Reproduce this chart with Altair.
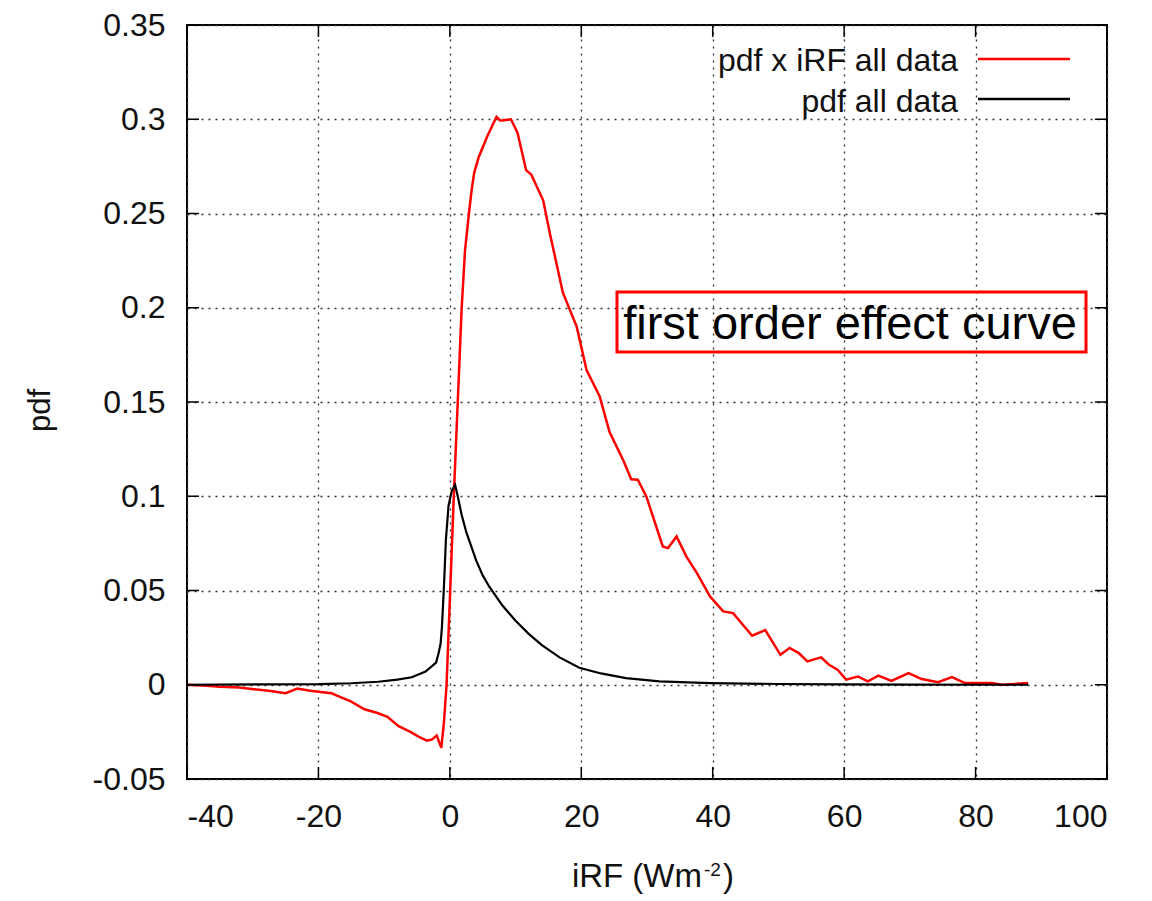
import altair as alt
import pandas as pd

# ---- data ----
red_x = [-40, -37, -35, -32, -29, -27, -25, -23.2, -21.5, -20, -18, -17, -15, -13, -11, -9.5,
         -7.8, -6, -4.7, -3.5, -2.7, -2.0, -1.3, -0.9, -0.5, 0.6, 1.2, 1.8, 2.3, 2.9, 3.3, 3.7,
         4.4, 5.7, 7.1, 7.6, 8.0, 9.3, 10.3, 11.6, 12.4, 14.2, 15.2, 17.2, 19.3, 20.8, 22.8,
         24.3, 26.4, 27.6, 28.6, 29.9, 32.4, 33.2, 34.5, 36.0, 37.6, 39.6, 41.6, 43.1, 46.0,
         48.0, 50.3, 51.7, 53.1, 54.4, 56.5, 57.7, 59.0, 60.3, 62.1, 63.6, 65.2, 67.2, 69.8,
         71.8, 74.3, 76.4, 78.4, 82.5, 84.0, 88.0]
red_y = [0.0, -0.0005, -0.001, -0.0015, -0.0027, -0.0035, -0.0045, -0.002, -0.003, -0.0037,
         -0.0045, -0.006, -0.009, -0.013, -0.015, -0.017, -0.022, -0.025, -0.0276, -0.0297,
         -0.029, -0.027, -0.0335, -0.02, 0.0, 0.1, 0.15, 0.2, 0.23, 0.25, 0.262, 0.2716,
         0.28, 0.291, 0.3013, 0.2995, 0.2994, 0.300, 0.2928, 0.273, 0.2706, 0.257, 0.2398,
         0.208, 0.19, 0.167, 0.153, 0.134, 0.119, 0.109, 0.1088, 0.0999, 0.0734, 0.0725,
         0.0787, 0.068, 0.0592, 0.0468, 0.0389, 0.038, 0.026, 0.029, 0.0159, 0.0195, 0.0168,
         0.0124, 0.0145, 0.0106, 0.008, 0.0027, 0.0044, 0.0018, 0.0048, 0.002, 0.0062, 0.003,
         0.0014, 0.0041, 0.0009, 0.0009, 0.0, 0.0009]

black_x = [-40, -20, -15, -10.9, -8, -5.8, -3.7, -2.1, -1.7, -1.4, -1.2, -0.9, -0.6, -0.2,
           0.3, 0.8, 1.2, 1.8, 2.5, 3.3, 4, 5, 6, 8, 10, 12, 14, 16.7, 19.7, 23, 26.8, 31.9,
           39.6, 50, 60, 70, 88]
black_y = [0.0, 0.0003, 0.0008, 0.0016, 0.0027, 0.004, 0.007, 0.0117, 0.017, 0.022, 0.031,
           0.052, 0.077, 0.095, 0.103, 0.106, 0.1, 0.09, 0.081, 0.073, 0.066, 0.058, 0.052,
           0.042, 0.034, 0.027, 0.021, 0.0145, 0.009, 0.006, 0.0035, 0.0018, 0.0009, 0.0004,
           0.0002, 0.0001, 0.0]

series_names = ["pdf x iRF all data", "pdf all data"]
series_colors = ["#ff0000", "#000000"]

x_ticks = [-40, -20, 0, 20, 40, 60, 80, 100]
y_ticks = [-0.05, 0, 0.05, 0.1, 0.15, 0.2, 0.25, 0.3, 0.35]

annotation = "first order effect curve"
x_title_main = "iRF (Wm"
x_title_sup = "-2"
x_title_end = ")"
y_title = "pdf"

W, H = 920, 754
FONT = "Liberation Sans"

red_df = pd.DataFrame({"x": red_x, "y": red_y, "s": series_names[0]})
black_df = pd.DataFrame({"x": black_x, "y": black_y, "s": series_names[1]})

xscale = alt.Scale(domain=[-40, 100], nice=False, zero=False)
yscale = alt.Scale(domain=[-0.05, 0.35], nice=False, zero=False)

label_expr = "replace(format(datum.value, '~g'), '\u2212', '-')"

xaxis = alt.Axis(values=x_ticks, title=None, grid=True, gridDash=[2, 5], gridColor="#333",
                 gridWidth=1.3, ticks=False, domain=False, labelFont=FONT, labelFontSize=32,
                 labelPadding=22, labelColor="#111", labelExpr=label_expr)
yaxis = alt.Axis(values=y_ticks, title=y_title, grid=True, gridDash=[2, 5], gridColor="#333",
                 gridWidth=1.3, ticks=False, domain=False, labelFont=FONT, labelFontSize=32,
                 labelPadding=22, labelColor="#111", labelExpr=label_expr,
                 titleFont=FONT, titleFontSize=31, titleFontWeight="normal", titleColor="#111",
                 titleX=-147, titleY=385, titleAngle=270, titleAlign="center",
                 titleBaseline="middle")

red_line = alt.Chart(red_df).mark_line(color=series_colors[0], strokeWidth=2.5).encode(
    x=alt.X("x:Q", scale=xscale, axis=xaxis),
    y=alt.Y("y:Q", scale=yscale, axis=yaxis),
)
black_line = alt.Chart(black_df).mark_line(color=series_colors[1], strokeWidth=2.2).encode(
    x=alt.X("x:Q"), y=alt.Y("y:Q"),
)

xt_df = pd.DataFrame({"v": x_ticks})
yt_df = pd.DataFrame({"v": y_ticks})
tick_len = 12
tick_style = dict(color="#000", strokeWidth=1.5)
ticks_bottom = alt.Chart(xt_df).mark_rule(**tick_style).encode(
    x="v:Q", y=alt.value(H), y2=alt.value(H - tick_len))
ticks_top = alt.Chart(xt_df).mark_rule(**tick_style).encode(
    x="v:Q", y=alt.value(0), y2=alt.value(tick_len))
ticks_left = alt.Chart(yt_df).mark_rule(**tick_style).encode(
    y="v:Q", x=alt.value(0), x2=alt.value(tick_len))
ticks_right = alt.Chart(yt_df).mark_rule(**tick_style).encode(
    y="v:Q", x=alt.value(W), x2=alt.value(W - tick_len))

# x-axis title with superscript
title_df = pd.DataFrame({"a": [x_title_main], "b": [x_title_sup], "c": [x_title_end]})
t_main = alt.Chart(title_df).mark_text(font=FONT, fontSize=33, color="#111", align="right",
                                       baseline="alphabetic").encode(
    text="a:N", x=alt.value(515), y=alt.value(862))
t_sup = alt.Chart(title_df).mark_text(font=FONT, fontSize=19, color="#111", align="left",
                                      baseline="alphabetic").encode(
    text="b:N", x=alt.value(517), y=alt.value(851))
t_end = alt.Chart(title_df).mark_text(font=FONT, fontSize=33, color="#111", align="left",
                                      baseline="alphabetic").encode(
    text="c:N", x=alt.value(536), y=alt.value(862))

# annotation box
box_df = pd.DataFrame({"t": [annotation]})
box = alt.Chart(box_df).mark_rect(fill=None, fillOpacity=0, stroke="#ff0000", strokeWidth=3).encode(
    x=alt.value(430), x2=alt.value(899), y=alt.value(267), y2=alt.value(327))
box_text = alt.Chart(box_df).mark_text(font=FONT, fontSize=47, color="#000",
                                       align="center", baseline="alphabetic").encode(
    text="t:N", x=alt.value(663), y=alt.value(314))

# legend (gnuplot style: text then sample line)
leg_df = pd.DataFrame({"name": series_names, "color": series_colors,
                       "ty": [46, 87], "ly": [34, 74]})
leg_text = alt.Chart(leg_df).mark_text(font=FONT, fontSize=32, color="#111",
                                       align="right", baseline="alphabetic").encode(
    text="name:N", x=alt.value(771), y=alt.Y("ty:Q", scale=None))
leg_line = alt.Chart(leg_df).mark_rule(strokeWidth=2.5).encode(
    x=alt.value(791), x2=alt.value(883), y=alt.Y("ly:Q", scale=None),
    color=alt.Color("color:N", scale=None))

chart = alt.layer(
    red_line, black_line, ticks_bottom, ticks_top, ticks_left, ticks_right,
    t_main, t_sup, t_end, box, box_text, leg_text, leg_line,
).properties(
    width=W, height=H,
    autosize=alt.AutoSizeParams(type="none"),
    padding={"left": 187, "top": 25, "right": 45, "bottom": 122},
    background="white",
).configure_view(stroke="#000", strokeWidth=2)

chart.save("out.html", embed_options={"renderer": "svg", "actions": False})
